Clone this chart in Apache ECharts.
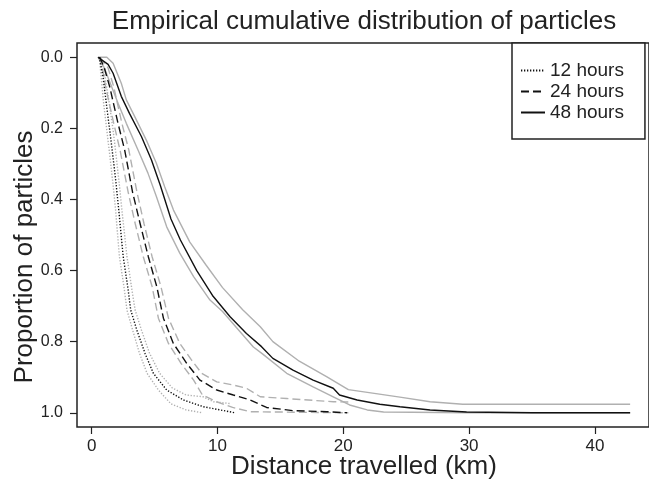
<!DOCTYPE html>
<html>
<head>
<meta charset="utf-8">
<script src="https://cdn.jsdelivr.net/npm/echarts@6/dist/echarts.min.js"></script>
<style>
html,body{margin:0;padding:0;background:#fff;}
#chart{width:649px;height:480px;}
</style>
</head>
<body>
<div id="chart"></div>
<script>
// ---- data (distance km, cumulative proportion) ----
var seriesNames = ['12 hours', '24 hours', '48 hours'];
var xTicks = [0, 10, 20, 30, 40];
var yTicks = [0, 0.2, 0.4, 0.6, 0.8, 1.0];

// 12 hours (dotted)
var h12_x = [0.6, 0.9, 1.16, 1.43, 1.69, 1.95, 2.15, 2.5, 2.9, 3.1, 3.58, 4.24, 4.9, 5.96, 7.28, 8.87, 10.2, 11.4];
var h12_y = [0, 0.055, 0.13, 0.205, 0.28, 0.36, 0.43, 0.56, 0.655, 0.711, 0.767, 0.833, 0.889, 0.936, 0.964, 0.983, 0.992, 1.0];
var h12_lo_x = [0.6, 1.05, 1.4, 1.7, 1.95, 2.2, 2.4, 2.8, 3.2, 3.45, 3.95, 4.6, 5.4, 6.4, 7.5, 8.87, 9.67, 11.0];
var h12_lo_y = [0, 0.055, 0.13, 0.205, 0.28, 0.36, 0.43, 0.56, 0.655, 0.711, 0.767, 0.833, 0.889, 0.93, 0.95, 0.955, 0.969, 0.974];
var h12_hi_x = [0.6, 0.75, 0.95, 1.2, 1.45, 1.7, 1.9, 2.2, 2.6, 2.8, 3.25, 3.8, 4.4, 5.3, 6.3, 7.5, 8.8];
var h12_hi_y = [0, 0.055, 0.13, 0.205, 0.28, 0.36, 0.43, 0.56, 0.655, 0.711, 0.767, 0.833, 0.889, 0.936, 0.975, 0.992, 1.0];

// 24 hours (dashed)
var h24_x = [0.64, 1.0, 1.43, 2.09, 2.62, 3.25, 3.84, 4.5, 5.17, 5.7, 6.49, 7.55, 8.6, 9.94, 11.26, 12.6, 13.9, 16.0, 18.7, 20.3];
var h24_y = [0, 0.03, 0.083, 0.186, 0.261, 0.38, 0.467, 0.561, 0.645, 0.734, 0.805, 0.861, 0.908, 0.936, 0.95, 0.964, 0.985, 0.994, 0.997, 1.0];
var h24_lo_x = [0.64, 1.3, 1.75, 2.4, 2.95, 3.6, 4.15, 4.8, 5.5, 6.1, 7.0, 7.9, 8.74, 9.94, 11.26, 12.3, 13.4, 15.5, 19.2, 20.7];
var h24_lo_y = [0, 0.03, 0.083, 0.186, 0.261, 0.38, 0.467, 0.561, 0.645, 0.734, 0.805, 0.85, 0.889, 0.913, 0.922, 0.931, 0.955, 0.96, 0.969, 0.97];
var h24_hi_x = [0.64, 0.85, 1.1, 1.75, 2.25, 2.9, 3.45, 4.1, 4.8, 5.3, 6.1, 7.1, 8.1, 8.8, 9.94, 11.2, 12.6, 20.4];
var h24_hi_y = [0, 0.03, 0.083, 0.186, 0.261, 0.38, 0.467, 0.561, 0.645, 0.734, 0.805, 0.861, 0.908, 0.95, 0.969, 0.985, 0.997, 1.0];

// 48 hours (solid)
var h48_x = [0.5, 1.3, 1.7, 2.35, 3.0, 3.95, 4.75, 5.45, 6.3, 7.05, 8.35, 9.6, 11.0, 12.3, 13.5, 14.4, 16.0, 17.6, 19.2, 19.7, 21.1, 22.9, 24.5, 26.9, 29.8, 35, 42.8];
var h48_y = [0, 0.02, 0.045, 0.11, 0.158, 0.223, 0.289, 0.36, 0.455, 0.514, 0.6, 0.67, 0.73, 0.777, 0.814, 0.847, 0.88, 0.908, 0.931, 0.95, 0.964, 0.976, 0.983, 0.992, 0.998, 1.0, 1.0];
var h48_lo_x = [0.5, 1.2, 1.7, 2.35, 2.75, 3.42, 4.34, 5.14, 5.8, 6.5, 7.8, 9.1, 10.4, 12.0, 13.4, 14.4, 16.5, 18.7, 20.4, 22.6, 24.5, 26.9, 29.5, 35, 42.8];
var h48_lo_y = [0, 0, 0.017, 0.073, 0.12, 0.167, 0.233, 0.298, 0.364, 0.43, 0.52, 0.585, 0.648, 0.71, 0.758, 0.8, 0.855, 0.899, 0.935, 0.946, 0.956, 0.969, 0.976, 0.976, 0.976];
var h48_hi_x = [0.5, 1.0, 1.5, 2.1, 2.75, 3.68, 4.47, 5.14, 5.96, 7.0, 8.1, 9.4, 10.4, 11.5, 12.85, 13.6, 15.5, 17.6, 19.2, 20.5, 21.9, 23.2, 30, 42.8];
var h48_hi_y = [0, 0.03, 0.075, 0.13, 0.186, 0.261, 0.326, 0.392, 0.477, 0.551, 0.617, 0.683, 0.715, 0.76, 0.815, 0.835, 0.889, 0.927, 0.955, 0.978, 0.992, 0.998, 1.0, 1.0];

function zip(xs, ys) { return xs.map(function (x, i) { return [x, ys[i]]; }); }

var FONT = "'Liberation Sans', Arial, Helvetica, sans-serif";
var BLACK = '#111';
var GRAY = '#b0b0b0';
var DOT = [1.3, 1.7];
var DASH = [8, 4];

function mk(name, xs, ys, color, type, z) {
  return {
    name: name, type: 'line', data: zip(xs, ys), showSymbol: false, symbol: 'none',
    lineStyle: { color: color, width: 1.4, type: type }, itemStyle: { color: color },
    z: z, silent: true, animation: false
  };
}

var chart = echarts.init(document.getElementById('chart'), null, { renderer: 'canvas' });
chart.setOption({
  animation: false,
  textStyle: { fontFamily: FONT },
  grid: { left: 77, top: 43, width: 575, height: 384, show: true, borderColor: '#222', borderWidth: 1.5, backgroundColor: 'transparent' },
  xAxis: {
    type: 'value', min: -1.17, max: 44.3,
    axisLine: { show: false, onZero: false },
    splitLine: { show: false },
    axisTick: { show: true, customValues: xTicks, length: 7, lineStyle: { color: '#222', width: 1.2 } },
    axisLabel: { customValues: xTicks, fontSize: 17, color: '#222', margin: 11, fontFamily: FONT }
  },
  yAxis: {
    type: 'value', min: -0.04, max: 1.04, inverse: true,
    axisLine: { show: false, onZero: false },
    splitLine: { show: false },
    axisTick: { show: true, customValues: yTicks, length: 7, lineStyle: { color: '#222', width: 1.2 } },
    axisLabel: { customValues: yTicks, fontSize: 16, color: '#222', margin: 14, fontFamily: FONT,
      formatter: function (v) { return Number(v).toFixed(1); } }
  },
  legend: {
    data: seriesNames,
    orient: 'vertical', left: 512, top: 43,
    backgroundColor: '#fff', borderColor: '#222', borderWidth: 1.5, borderRadius: 0,
    padding: [18, 21, 17, 8],
    itemWidth: 24, itemHeight: 14, itemGap: 2,
    itemStyle: { opacity: 0 },
    textStyle: { fontSize: 19, color: '#222', fontFamily: FONT, lineHeight: 17 },
    selectedMode: false
  },
  graphic: [
    { type: 'text', x: 364, y: 22, style: { text: 'Empirical cumulative distribution of particles', font: '26px ' + FONT, fill: '#222', textAlign: 'center', textVerticalAlign: 'middle' } },
    { type: 'text', x: 364, y: 467, style: { text: 'Distance travelled (km)', font: '26px ' + FONT, fill: '#222', textAlign: 'center', textVerticalAlign: 'middle' } },
    { type: 'text', x: 25, y: 257, rotation: Math.PI / 2, style: { text: 'Proportion of particles', font: '26px ' + FONT, fill: '#222', textAlign: 'center', textVerticalAlign: 'middle' } }
  ],
  series: [
    mk('12h lo', h12_lo_x, h12_lo_y, GRAY, DOT, 1),
    mk('12h hi', h12_hi_x, h12_hi_y, GRAY, DOT, 1),
    mk('24h lo', h24_lo_x, h24_lo_y, GRAY, DASH, 1),
    mk('24h hi', h24_hi_x, h24_hi_y, GRAY, DASH, 1),
    mk('48h lo', h48_lo_x, h48_lo_y, GRAY, 'solid', 1),
    mk('48h hi', h48_hi_x, h48_hi_y, GRAY, 'solid', 1),
    mk(seriesNames[0], h12_x, h12_y, BLACK, DOT, 3),
    mk(seriesNames[1], h24_x, h24_y, BLACK, DASH, 3),
    mk(seriesNames[2], h48_x, h48_y, BLACK, 'solid', 3)
  ]
});
</script>
</body>
</html>
